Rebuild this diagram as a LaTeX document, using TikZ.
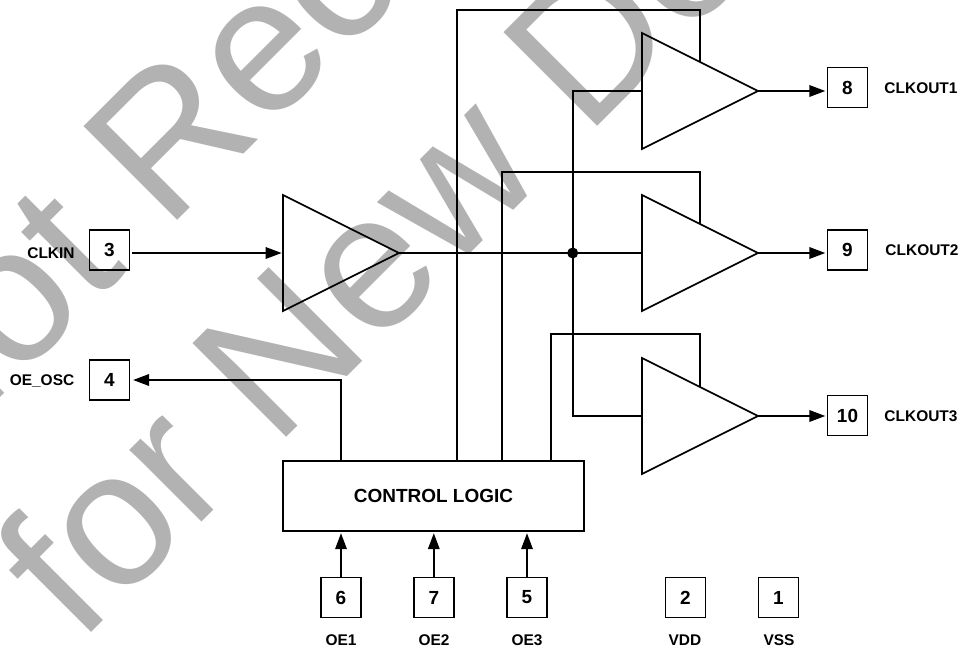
\documentclass[tikz,border=0pt]{standalone}
\usepackage{fontspec}
\setmainfont{Liberation Sans}
\usetikzlibrary{arrows.meta,shapes.geometric}
\definecolor{stampgray}{HTML}{B2B2B2}
\tikzset{
	wire/.style={line width=1.15pt},
	feed/.style={wire, -{Triangle[length=0.4cm,width=0.29cm]}, shorten >=1pt},
	pinbox/.style={draw, line width=1.15pt, minimum size=1cm, inner sep=0pt, font=\bfseries\fontsize{13.5}{14}\selectfont},
	pinlabel/.style={inner sep=0pt, font=\bfseries\fontsize{11}{12}\selectfont},
	buffer/.style={draw, line width=1.15pt, fill=none, isosceles triangle, isosceles triangle stretches, minimum width=2.9cm, minimum height=2.9cm, inner sep=0pt, outer sep=0pt, anchor=lower side},
	stamp/.style={inner sep=0pt, rotate=45, anchor=base west, text=stampgray, font=\fontsize{137}{140}\selectfont}
}

\begin{document}
\begin{tikzpicture}[x=0.025cm, y=-0.025cm]
		\path[use as bounding box] (0, 0) rectangle (961, 650);
		
		% stamp behind the schematic
		\begin{scope}
			\clip (0, 0) rectangle (961, 650);
			\node[stamp] (stampA) at (-83, 481) {Not Recommended};
			\node[stamp] (stampB) at (79, 645) {for New Designs};
		\end{scope}
		
		% pins
		\node[pinbox] (pin3) at (109.5, 250) {3};
		\node[pinbox] (pin4) at (109.5, 380) {4};
		\node[pinbox] (pin8) at (847.5, 87.5) {8};
		\node[pinbox] (pin9) at (847.5, 250) {9};
		\node[pinbox] (pin10) at (847.5, 415.5) {10};
		\node[pinbox] (pin6) at (341, 597.5) {6};
		\node[pinbox] (pin7) at (433.8, 597.5) {7};
		\node[pinbox] (pin5) at (527, 597.5) {5};
		\node[pinbox] (pin2) at (685.5, 597.5) {2};
		\node[pinbox] (pin1) at (778.5, 597.5) {1};
		
		% pin names
		\node[pinlabel] (nameCLKIN) at (51, 253) {CLKIN};
		\node[pinlabel] (nameOSC) at (42, 381) {OE\_OSC};
		\node[pinlabel] (nameOUT1) at (921, 88) {CLKOUT1};
		\node[pinlabel] (nameOUT2) at (922, 250) {CLKOUT2};
		\node[pinlabel] (nameOUT3) at (921, 416) {CLKOUT3};
		\node[pinlabel] (nameOE1) at (341, 640) {OE1};
		\node[pinlabel] (nameOE2) at (434, 640) {OE2};
		\node[pinlabel] (nameOE3) at (527, 640) {OE3};
		\node[pinlabel] (nameVDD) at (685, 640) {VDD};
		\node[pinlabel] (nameVSS) at (779, 640) {VSS};
		
		% buffers and logic
		\node[buffer] (bufIn) at (283, 253) {};
		\node[buffer] (buf1) at (642, 91) {};
		\node[buffer] (buf2) at (642, 253) {};
		\node[buffer] (buf3) at (642, 416) {};
		\node[draw, line width=1.15pt, minimum width=7.525cm, minimum height=1.75cm, inner sep=0pt, font=\bfseries\fontsize{13.5}{14}\selectfont] (ctrl) at (433.5, 496) {CONTROL LOGIC};
		
		% clock path
		\draw[feed, shorten <=1.5pt] (pin3.east |- bufIn.lower side) -- (bufIn.lower side);
		\draw[wire] (bufIn.apex) -- (buf2.lower side);
		\coordinate (tap) at (572.7, 253);
		\fill (tap) circle (5.5);
		\draw[wire] (buf1.lower side) -| (tap);
		\draw[wire] (buf3.lower side) -| (tap);
		\draw[feed] (buf1.apex) -- (pin8.west |- buf1.apex);
		\draw[feed] (buf2.apex) -- (pin9.west |- buf2.apex);
		\draw[feed] (buf3.apex) -- (pin10.west |- buf3.apex);
		
		% enables
		\draw[feed, shorten >=2pt] (ctrl.north -| pin6) |- (pin4.east);
		\coordinate (en1) at (456.7, 10);
		\coordinate (en2) at (502, 172);
		\coordinate (en3) at (551, 334);
		\draw[wire] (ctrl.north -| en1) -- (en1) -| (buf1.left side);
		\draw[wire] (ctrl.north -| en2) -- (en2) -| (buf2.left side);
		\draw[wire] (ctrl.north -| en3) -- (en3) -| (buf3.left side);
		\draw[feed] (pin6) ++(0, -20.5) -- (ctrl.south -| pin6);
		\draw[feed] (pin7) ++(0, -20.5) -- (ctrl.south -| pin7);
		\draw[feed] (pin5) ++(0, -20.5) -- (ctrl.south -| pin5);
\end{tikzpicture}
\end{document}
